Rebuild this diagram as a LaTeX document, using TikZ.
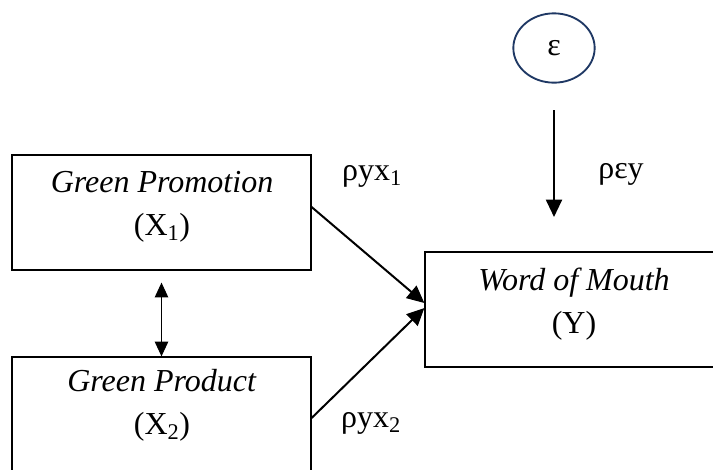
\documentclass[tikz,border=0pt]{standalone}
\usepackage{fontspec}
\setmainfont{Liberation Serif}
\usetikzlibrary{arrows.meta,calc,shapes.geometric}
\begin{document}
\begin{tikzpicture}[x=0.75pt,y=-0.75pt,
  boxnode/.style={draw=black,line width=0.9pt,minimum width=224.25pt,minimum height=86.25pt,inner sep=0pt},
  txt/.style={align=center,font=\fontsize{24}{32.5}\selectfont,inner sep=0pt},
  lbl/.style={font=\fontsize{24}{28}\selectfont,inner sep=0pt},
  arr/.style={line width=1.5pt,-{Triangle[length=13pt,width=12pt]}},
  darr/.style={line width=0.9pt,{Triangle[length=11pt,width=10pt]}-{Triangle[length=11pt,width=10pt]}}]
\useasboundingbox (0,0) rectangle (713,469);
\clip (0,0) rectangle (713,469);
\node[boxnode] (b1) at (161.5,212.5) {};
\node[boxnode] (b2) at (161.5,414.5) {};
\node[boxnode,minimum width=260pt] (w) at (598.3,309.5) {};
\node[draw={rgb,255:red,31;green,56;blue,100},line width=1.4pt,ellipse,minimum width=61pt,minimum height=52pt,inner sep=0pt] (e) at (554,48) {};
\node[txt] (t1) at (162,207) {\textit{Green Promotion}\\(X\textsubscript{1})};
\node[txt] (t2) at (162,405) {\textit{Green Product}\\(X\textsubscript{2})};
\node[txt] (tw) at (574,304) {\textit{Word of Mouth}\\(Y)};
\node[lbl] (te) at (e.center) {ε};
\node[lbl] (l1) at (372,176) {ρyx\textsubscript{1}};
\node[lbl] (l2) at (371,423) {ρyx\textsubscript{2}};
\node[lbl] (l3) at (621,174) {ρεy};
\coordinate (a1s) at ($(b1.east)+(0,-5.5)$);
\coordinate (a1e) at ($(w.west)+(0,-6.5)$);
\coordinate (a2s) at ($(b2.east)+(0,3.5)$);
\coordinate (a2e) at ($(w.west)+(0,-1.5)$);
\coordinate (ves) at ($(e.center)+(0,62)$);
\coordinate (vee) at ($(e.center)+(0,169)$);
\coordinate (ds) at ($(b1.south)+(0,12)$);
\draw[arr] (a1s) -- (a1e);
\draw[arr] (a2s) -- (a2e);
\draw[arr] (ves) -- (vee);
\draw[darr] (ds) -- (b2.north);
\end{tikzpicture}
\end{document}
